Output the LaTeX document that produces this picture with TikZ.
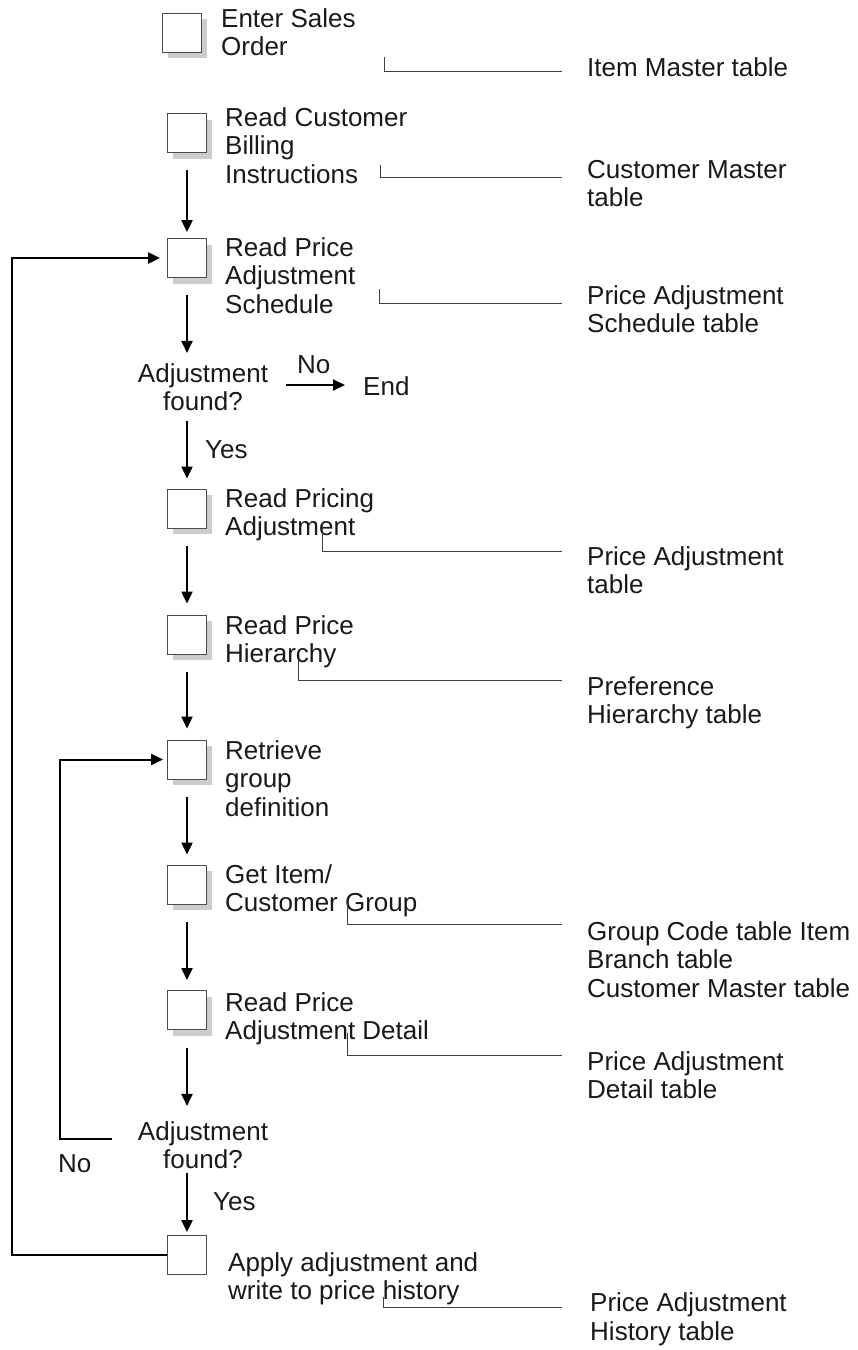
\documentclass[tikz,border=0pt]{standalone}
\usepackage{fontspec}
\setmainfont{Liberation Sans}
\usetikzlibrary{arrows.meta,shadows}
\begin{document}
\begin{tikzpicture}[x=1pt,y=-1pt,
  box/.style={draw=black!70, line width=0.8pt, fill=white, minimum size=39pt, inner sep=0pt,
    drop shadow={shadow xshift=5pt, shadow yshift=-6pt, fill=black!20, opacity=1}},
  plainbox/.style={draw=black!70, line width=0.8pt, fill=white, minimum size=39pt, inner sep=0pt},
  lbl/.style={font=\fontsize{26}{28.8}\selectfont, text=black!90, inner sep=0pt, align=left, anchor=base west},
  dec/.style={font=\fontsize{26}{28.8}\selectfont, text=black!90, inner sep=0pt, align=center, anchor=base},
  arr/.style={line width=2pt, -{Triangle[length=12pt,width=11pt]}},
  conn/.style={line width=0.9pt, draw=black!75},
]
\useasboundingbox (0,0) rectangle (858,1350);

% boxes
\node[box] (b1) at (182,32.5) {};
\node[box] (b2) at (187,133) {};
\node[box] (b3) at (187,258) {};
\node[box] (b4) at (187,508.5) {};
\node[box] (b5) at (187,634.5) {};
\node[box] (b6) at (187,759.5) {};
\node[box] (b7) at (187,884.5) {};
\node[box] (b8) at (187,1010) {};
\node[plainbox] (b9) at (187,1255) {};

% step texts (y = baseline of last line)
\node[lbl] (t1) at (221,55.8) {Enter Sales\\Order};
\node[lbl] (t2) at (225,183.6) {Read Customer\\Billing\\Instructions};
\node[lbl] (t3) at (225,313.6) {Read Price\\Adjustment\\Schedule};
\node[dec] (d1) at (203,410.8) {Adjustment\\found?};
\node[lbl] (no1) at (297,373) {No};
\node[lbl] (end) at (363,395) {End};
\node[lbl] (yes1) at (205,458) {Yes};
\node[lbl] (t4) at (225,535.8) {Read Pricing\\Adjustment};
\node[lbl] (t5) at (225,662.8) {Read Price\\Hierarchy};
\node[lbl] (t6) at (225,816.6) {Retrieve\\group\\definition};
\node[lbl] (t7) at (225,911.8) {Get Item/\\Customer Group};
\node[lbl] (t8) at (225,1039.8) {Read Price\\Adjustment Detail};
\node[dec] (d2) at (203,1168.8) {Adjustment\\found?};
\node[lbl] (no2) at (58,1172) {No};
\node[lbl] (yes2) at (213,1210) {Yes};
\node[lbl] (t9) at (228,1299.8) {Apply adjustment and\\write to price history};

% table texts
\node[lbl] (r1) at (587,76) {Item Master table};
\node[lbl] (r2) at (587,206.8) {Customer Master\\table};
\node[lbl] (r3) at (587,332.8) {Price Adjustment\\Schedule table};
\node[lbl] (r4) at (587,593.8) {Price Adjustment\\table};
\node[lbl] (r5) at (587,723.8) {Preference\\Hierarchy table};
\node[lbl] (r6) at (587,997.6) {Group Code table Item\\Branch table\\Customer Master table};
\node[lbl] (r7) at (587,1098.8) {Price Adjustment\\Detail table};
\node[lbl] (r8) at (590,1340) {Price Adjustment\\History table};

% table connectors
\coordinate (c1a) at (384,57);   \coordinate (c1b) at (562,71);
\coordinate (c2a) at (380,165);  \coordinate (c2b) at (562,177);
\coordinate (c3a) at (379,289);  \coordinate (c3b) at (562,303);
\coordinate (c4a) at (322,523);  \coordinate (c4b) at (562,551);
\coordinate (c5a) at (298,660);  \coordinate (c5b) at (562,680);
\coordinate (c7a) at (347,903);  \coordinate (c7b) at (562,924);
\coordinate (c8a) at (347,1033); \coordinate (c8b) at (562,1055);
\coordinate (c9a) at (383,1297); \coordinate (c9b) at (562,1307);
\foreach \c in {1,2,3,4,5,7,8,9} \draw[conn] (c\c a) |- (c\c b);

% flow arrows
\draw[arr, shorten <=17pt, shorten >=6pt] (b2.south) -- (b3.north);
\draw[arr, shorten <=17pt, shorten >=10pt] (b3.south) -- (b3.south |- d1.north);
\draw[arr, shorten <=10pt, shorten >=10pt] (b4.north |- d1.south) -- (b4.north);
\draw[arr, shorten <=18pt, shorten >=11pt] (b4.south) -- (b5.north);
\draw[arr, shorten <=18pt, shorten >=11pt] (b5.south) -- (b6.north);
\draw[arr, shorten <=18pt, shorten >=10pt] (b6.south) -- (b7.north);
\draw[arr, shorten <=18pt, shorten >=10pt] (b7.south) -- (b8.north);
\draw[arr, shorten <=18pt, shorten >=15pt] (b8.south) -- (b8.south |- d2.north);
\draw[arr, shorten <=4pt, shorten >=3pt] (b9.north |- d2.south) -- (b9.north);

% No -> End
\coordinate (n1) at (286,385);
\draw[arr, shorten >=18pt] (n1) -- (n1 -| end.west);

% outer loop
\coordinate (o1) at (12,1255);
\draw[arr, shorten >=7pt] (b9.west) -- (o1) |- (b3.west);

% inner loop
\coordinate (i1) at (112,1139);
\coordinate (i2) at (60,1139);
\draw[arr, shorten >=4pt] (i1) -- (i2) |- (b6.west);
\end{tikzpicture}
\end{document}
